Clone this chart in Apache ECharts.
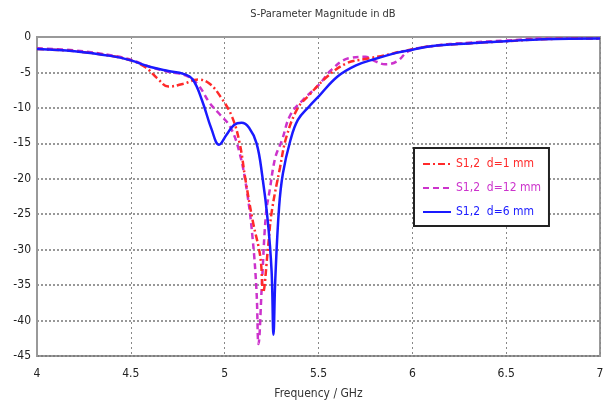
<!DOCTYPE html>
<html><head><meta charset="utf-8">
<script src="https://cdn.jsdelivr.net/npm/echarts@6/dist/echarts.min.js"></script>
<style>html,body{margin:0;padding:0;background:#fff}#c{width:611px;height:412px}</style>
</head><body><div id="c"></div>
<script>
var chartTitle = 'S-Parameter Magnitude in dB';
var xAxisName = 'Frequency / GHz';
var seriesNames = ['S1,2  d=1 mm', 'S1,2  d=12 mm', 'S1,2  d=6 mm'];

var freqD1 = [4.0,4.2,4.4,4.5,4.58,4.64,4.7,4.78,4.86,4.92,4.98,5.04,5.08,5.11,5.15,5.19,5.205,5.23,5.25,5.295,5.33,5.39,5.45,5.55,5.65,5.75,5.85,5.95,6.1,6.3,6.5,6.7,7.0];
var magD1  = [-1.7,-2.0,-2.7,-3.3,-4.3,-5.8,-7.0,-6.6,-6.0,-6.6,-8.5,-11.3,-15,-20,-26,-31,-36,-30,-24.8,-18.4,-14,-10,-8.2,-5.5,-3.7,-3.1,-2.6,-2.0,-1.3,-0.9,-0.6,-0.3,-0.2];

var freqD12 = [4.0,4.2,4.4,4.5,4.6,4.7,4.8,4.86,4.92,4.97,5.03,5.08,5.12,5.15,5.17,5.18,5.2,5.22,5.24,5.27,5.305,5.35,5.42,5.5,5.57,5.66,5.75,5.8,5.855,5.92,5.98,6.1,6.3,6.5,6.7,7.0];
var magD12  = [-1.6,-1.9,-2.6,-3.2,-4.2,-4.9,-5.5,-6.8,-9.3,-10.8,-12.7,-16.4,-22,-28.7,-36,-43.3,-34,-25,-21.6,-17,-14.6,-11,-8.8,-6.8,-4.6,-3.0,-2.8,-3.4,-3.85,-3.4,-2.0,-1.3,-0.8,-0.5,-0.2,-0.2];

var freqD6 = [4.0,4.2,4.4,4.5,4.6,4.7,4.78,4.83,4.88,4.93,4.97,5.01,5.05,5.09,5.13,5.17,5.2,5.23,5.25,5.26,5.27,5.29,5.31,5.35,5.39,5.45,5.5,5.6,5.7,5.8,5.92,6.0,6.1,6.3,6.5,6.7,7.0];
var magD6  = [-1.7,-2.0,-2.7,-3.3,-4.2,-4.8,-5.2,-6.0,-9.0,-13.0,-15.2,-13.8,-12.4,-12.1,-12.8,-15.0,-19.5,-26,-33,-42,-34,-24,-19.3,-14.6,-11.7,-9.8,-8.4,-5.6,-4.0,-3.1,-2.2,-1.8,-1.3,-0.9,-0.6,-0.3,-0.2];

var xTicks = {min: 4, max: 7, step: 0.5};
var yTicks = {min: -45, max: 0, step: 5};

function pairs(xs, ys){ return xs.map(function(x,i){ return [x, ys[i]]; }); }

var font = '"Liberation Sans Narrow","DejaVu Sans Condensed","Open Sans",sans-serif';
var colors = ['#ff2a2a', '#cc33cc', '#1a1aff'];

var chart = echarts.init(document.getElementById('c'), null, {renderer:'canvas'});
chart.setOption({
  backgroundColor: '#fff',
  animation: false,
  title: {text: chartTitle, left: 318, top: 4, textAlign: 'center',
    textStyle: {fontSize: 11, fontWeight: 'normal', color: '#333', fontFamily: font}},
  grid: {left: 37, right: 11, top: 37, bottom: 56, show: true, borderColor: '#999', borderWidth: 2, backgroundColor: '#fff'},
  legend: {
    orient: 'vertical', left: 414, top: 148, width: 115, padding: [10, 8, 8, 8],
    backgroundColor: '#fff', borderColor: '#222', borderWidth: 2,
    itemWidth: 28, itemHeight: 10, itemGap: 12,
    itemStyle: {opacity: 0},
    textStyle: {fontSize: 12, fontFamily: font},
    data: [
      {name: seriesNames[0], textStyle: {color: colors[0]}},
      {name: seriesNames[1], textStyle: {color: colors[1]}},
      {name: seriesNames[2], textStyle: {color: colors[2]}}
    ]
  },
  xAxis: {
    type: 'value', min: xTicks.min, max: xTicks.max, interval: xTicks.step,
    name: xAxisName, nameLocation: 'middle', nameGap: 32,
    nameTextStyle: {fontSize: 12, color: '#333', fontFamily: font},
    axisLine: {show: true, lineStyle: {color: '#999', width: 2}},
    axisTick: {show: false},
    axisLabel: {fontSize: 12, color: '#222', margin: 12, fontFamily: font},
    splitLine: {show: true, lineStyle: {type: [2, 3], color: '#888', width: 1}}
  },
  yAxis: {
    type: 'value', min: yTicks.min, max: yTicks.max, interval: yTicks.step,
    axisLine: {show: true, lineStyle: {color: '#999', width: 2}},
    axisTick: {show: false},
    axisLabel: {fontSize: 12, color: '#222', margin: 6, fontFamily: font},
    splitLine: {show: true, lineStyle: {type: [2, 2], color: '#777', width: 1.5}}
  },
  series: [
    {name: seriesNames[0], type: 'line', smooth: 0.4, symbol: 'none', z: 3,
     data: pairs(freqD1, magD1), itemStyle: {color: colors[0]},
     lineStyle: {color: colors[0], width: 2.5, type: [7, 3, 2, 3]}},
    {name: seriesNames[1], type: 'line', smooth: 0.4, symbol: 'none', z: 2,
     data: pairs(freqD12, magD12), itemStyle: {color: colors[1]},
     lineStyle: {color: colors[1], width: 2.5, type: [6, 4]}},
    {name: seriesNames[2], type: 'line', smooth: 0.4, symbol: 'none', z: 4,
     data: pairs(freqD6, magD6), itemStyle: {color: colors[2]},
     lineStyle: {color: colors[2], width: 2.5, type: 'solid'}}
  ]
});
</script></body></html>
